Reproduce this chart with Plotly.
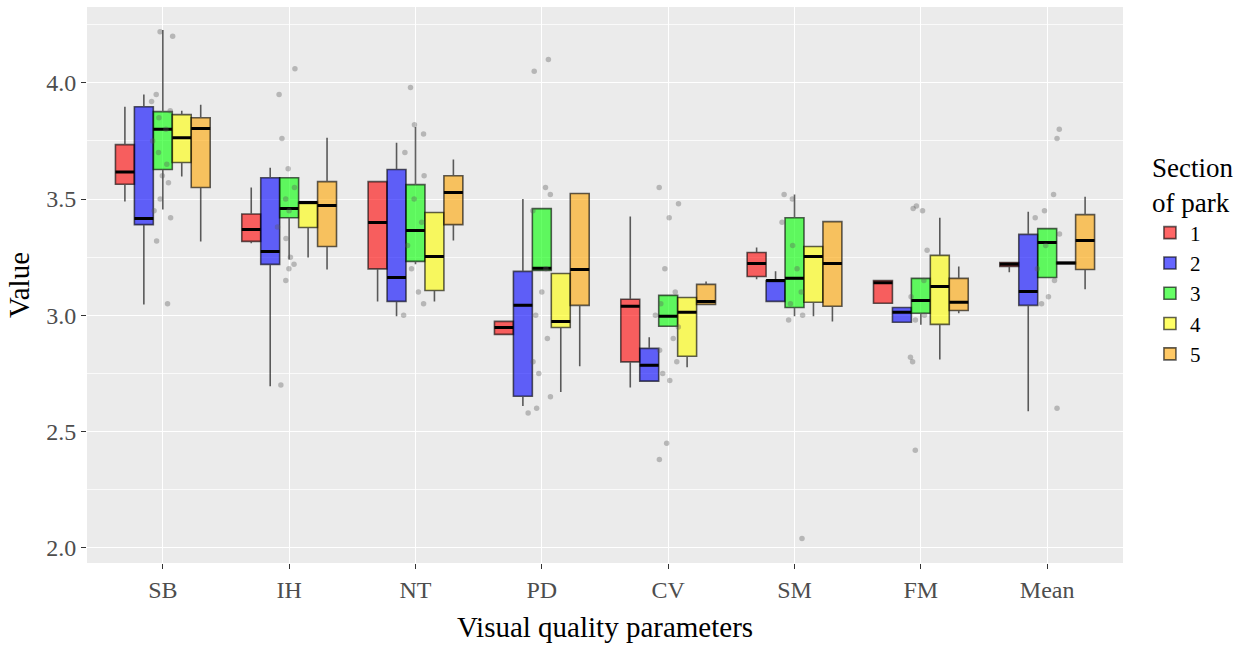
import plotly.graph_objects as go

categories = ["SB", "IH", "NT", "PD", "CV", "SM", "FM", "Mean"]
sections = ["1", "2", "3", "4", "5"]
fills = ["rgba(255,0,0,0.6)", "rgba(0,0,255,0.6)", "rgba(0,255,0,0.6)",
         "rgba(255,255,0,0.6)", "rgba(255,165,0,0.6)"]

# box statistics per section (one value per category)
lower = [
    [3.49, 3.31, 3.06, 2.918, 2.69, 3.155, 3.052, 3.185],
    [3.047, 2.695, 2.996, 2.61, 2.717, 3.06, 2.97, 2.588],
    [3.455, 3.24, 3.22, 3.193, 2.953, 2.996, 2.96, 3.163],
    [3.597, 3.249, 3.06, 2.67, 2.777, 2.996, 2.81, 3.222],
    [3.318, 3.197, 3.322, 2.781, 3.047, 2.974, 3.009, 3.112],
]
q1 = [
    [3.564, 3.318, 3.20, 2.918, 2.80, 3.167, 3.052, 3.21],
    [3.39, 3.219, 3.06, 2.652, 2.717, 3.06, 2.97, 3.043],
    [3.627, 3.42, 3.232, 3.193, 2.953, 3.034, 3.009, 3.163],
    [3.657, 3.378, 3.107, 2.948, 2.824, 3.056, 2.961, 3.222],
    [3.55, 3.296, 3.39, 3.043, 3.047, 3.039, 3.021, 3.197],
]
median = [
    [3.616, 3.369, 3.399, 2.948, 3.039, 3.223, 3.14, 3.22],
    [3.416, 3.275, 3.163, 3.043, 2.785, 3.15, 3.013, 3.103],
    [3.80, 3.459, 3.365, 3.202, 2.996, 3.159, 3.064, 3.313],
    [3.764, 3.485, 3.253, 2.974, 3.013, 3.253, 3.124, 3.225],
    [3.803, 3.472, 3.528, 3.197, 3.06, 3.223, 3.056, 3.322],
]
q3 = [
    [3.734, 3.436, 3.575, 2.974, 3.069, 3.27, 3.15, 3.227],
    [3.897, 3.592, 3.627, 3.189, 2.858, 3.15, 3.034, 3.348],
    [3.876, 3.592, 3.562, 3.459, 3.086, 3.42, 3.159, 3.373],
    [3.863, 3.485, 3.442, 3.18, 3.077, 3.296, 3.258, 3.228],
    [3.85, 3.575, 3.60, 3.524, 3.133, 3.403, 3.159, 3.433],
]
upper = [
    [3.897, 3.55, 3.575, 2.974, 3.425, 3.292, 3.15, 3.227],
    [3.95, 3.635, 3.742, 3.50, 2.906, 3.19, 3.034, 3.446],
    [4.227, 3.592, 3.81, 3.459, 3.086, 3.52, 3.159, 3.373],
    [3.88, 3.485, 3.442, 3.18, 3.077, 3.296, 3.42, 3.228],
    [3.906, 3.764, 3.67, 3.524, 3.146, 3.403, 3.21, 3.51],
]

# individual observations (gray jittered points) per category
points = {
    "SB": [4.22, 4.20, 3.95, 3.92, 3.88, 3.85, 3.80, 3.75, 3.70, 3.65, 3.60, 3.57, 3.50, 3.45, 3.42, 3.32, 3.05],
    "IH": [4.06, 3.95, 3.76, 3.63, 3.55, 3.50, 3.45, 3.38, 3.33, 3.25, 3.22, 3.20, 3.15, 2.70],
    "NT": [3.98, 3.82, 3.78, 3.70, 3.60, 3.50, 3.40, 3.30, 3.20, 3.10, 3.05, 3.00],
    "PD": [4.10, 4.05, 3.55, 3.52, 3.45, 3.20, 3.10, 3.00, 2.90, 2.80, 2.75, 2.65, 2.60, 2.58],
    "CV": [3.55, 3.48, 3.42, 3.20, 3.10, 3.05, 3.00, 2.95, 2.90, 2.85, 2.80, 2.75, 2.72, 2.45, 2.38],
    "SM": [3.52, 3.50, 3.40, 3.30, 3.20, 3.10, 3.05, 3.00, 2.98, 2.04],
    "FM": [3.47, 3.46, 3.45, 3.28, 3.15, 3.08, 3.00, 2.98, 2.82, 2.80, 2.42],
    "Mean": [3.80, 3.76, 3.52, 3.45, 3.42, 3.35, 3.30, 3.20, 3.15, 3.08, 3.05, 2.60],
}

SERIF = "Liberation Serif"
fig = go.Figure()

for i, name in enumerate(sections):
    fig.add_trace(go.Box(
        x=categories, q1=q1[i], median=median[i], q3=q3[i],
        lowerfence=lower[i], upperfence=upper[i],
        name=name, legendgroup=name, offsetgroup=name,
        fillcolor=fills[i], line=dict(color="rgba(0,0,0,0.62)", width=1.6),
        whiskerwidth=0, boxpoints=False, hoverinfo="skip",
    ))
    # thick black median (ggplot "fatten")
    fig.add_trace(go.Box(
        x=categories, q1=median[i], median=median[i], q3=median[i],
        lowerfence=median[i], upperfence=median[i],
        name=name, legendgroup=name, offsetgroup=name, showlegend=False,
        fillcolor="rgba(0,0,0,0)", line=dict(color="black", width=3),
        whiskerwidth=0, boxpoints=False, hoverinfo="skip",
    ))

px, py = [], []
for c in categories:
    for v in points[c]:
        px.append(c)
        py.append(v)

fig.add_trace(go.Box(
    x=px, y=py, xaxis="x2", showlegend=False,
    boxpoints="all", jitter=1, pointpos=0, width=0.22,
    fillcolor="rgba(0,0,0,0)", line=dict(color="rgba(0,0,0,0)", width=0),
    marker=dict(color="rgba(90,90,90,0.36)", size=5.5),
    hoverinfo="skip",
))

fig.update_layout(
    width=1248, height=645,
    margin=dict(l=87, r=125, t=7, b=82),
    paper_bgcolor="white", plot_bgcolor="#EBEBEB",
    boxmode="group", boxgap=0.25, boxgroupgap=0,
    font=dict(family=SERIF, color="black"),
    legend=dict(
        title=dict(text="Section<br>of park", font=dict(size=27, family=SERIF, color="black")),
        font=dict(size=21, family=SERIF, color="black"),
        x=1.026, xanchor="left", y=0.548, yanchor="middle",
        bgcolor="rgba(0,0,0,0)", tracegroupgap=0,
    ),
    xaxis=dict(
        type="category", categoryorder="array", categoryarray=categories,
        range=[-0.6, 7.6], showgrid=True, gridcolor="white", gridwidth=1.4,
        ticks="outside", ticklen=5, tickcolor="#333333", tickwidth=1,
        tickfont=dict(size=24, color="#4D4D4D", family=SERIF),
        title=dict(text="Visual quality parameters", font=dict(size=29, family=SERIF, color="black"), standoff=14),
        zeroline=False, showline=False,
    ),
    xaxis2=dict(
        type="category", categoryorder="array", categoryarray=categories,
        range=[-0.6, 7.6], overlaying="x", visible=False,
    ),
    yaxis=dict(
        range=[1.935, 4.326], dtick=0.5, tick0=0, tickformat=".1f",
        showgrid=True, gridcolor="white", gridwidth=1.4,
        minor=dict(dtick=0.25, tick0=0, showgrid=True, gridcolor="rgba(255,255,255,0.75)", gridwidth=0.7),
        ticks="outside", ticklen=5, tickcolor="#333333", tickwidth=1,
        tickfont=dict(size=24, color="#4D4D4D", family=SERIF),
        title=dict(text="Value", font=dict(size=29, family=SERIF, color="black"), standoff=8),
        zeroline=False, showline=False,
    ),
)

fig.write_html("out.html", config={"displayModeBar": False},
               post_script="document.body.style.margin='0';")
